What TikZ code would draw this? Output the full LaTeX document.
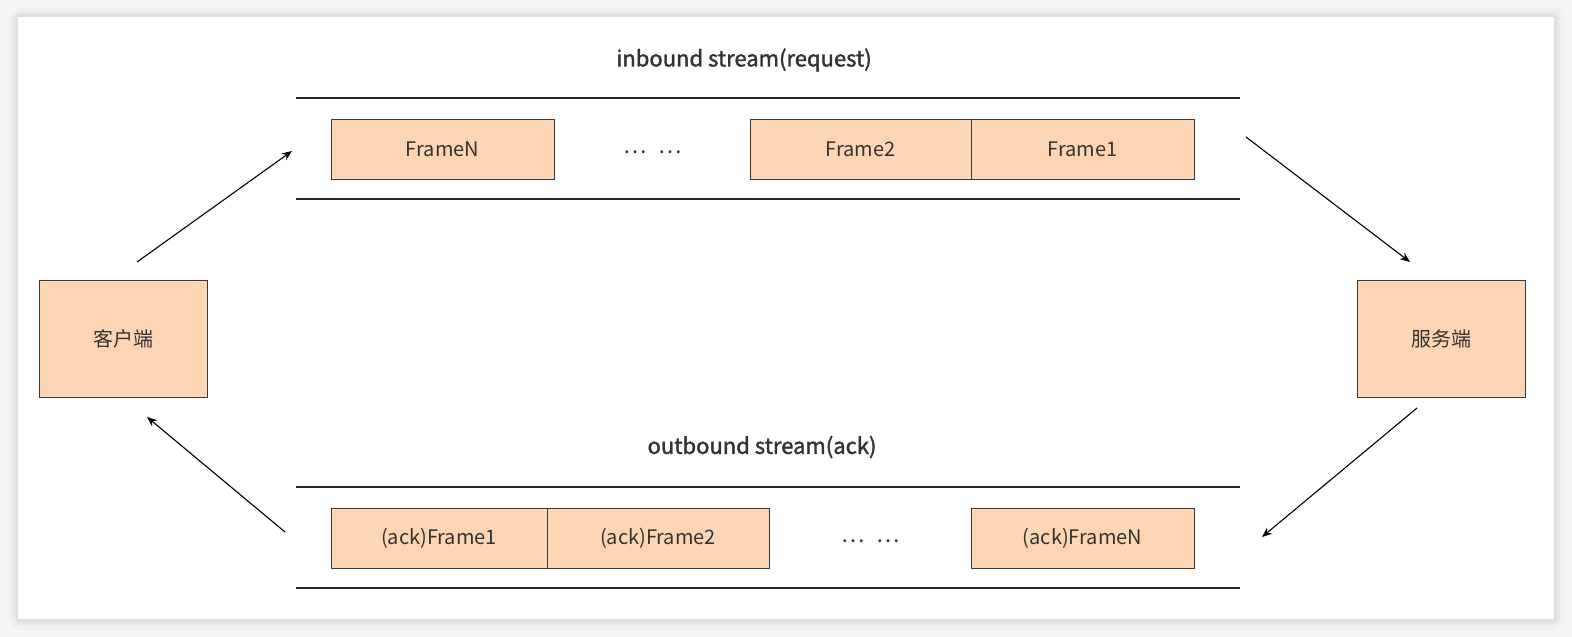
\documentclass[tikz,border=0pt]{standalone}
\usepackage{fontspec}
\setmainfont{Noto Sans CJK SC}
\newfontfamily\titlefont[FakeBold=1.6]{Noto Sans CJK SC}
\usetikzlibrary{arrows.meta}
\definecolor{boxfill}{HTML}{FCD5B5}
\definecolor{edge}{HTML}{3A3A3A}
\definecolor{txt}{HTML}{333333}
\tikzset{
  framebox/.style={draw=edge, line width=0.9pt, fill=boxfill, minimum width=#1, minimum height=60pt, inner sep=0pt, text=txt, font=\fontsize{20}{22}\selectfont},
  framebox/.default=222pt,
  endbox/.style={draw=edge, line width=0.9pt, fill=boxfill, minimum width=168pt, minimum height=117pt, inner sep=0pt, text=txt, font=\fontsize{20}{22}\selectfont},
  rail/.style={draw=black!85, line width=1.2pt},
  flow/.style={draw=black, line width=1.1pt, -{Stealth[length=10pt,width=8pt]}},
  title/.style={text=txt, font=\fontsize{22}{26}\titlefont},
  dots/.style={text=txt, font=\fontsize{22}{24}\selectfont}
}
\begin{document}
\begin{tikzpicture}[x=1pt,y=-1pt]
\useasboundingbox (0,0) rectangle (1572,637);
% background and panel shadow
\fill[black!4] (0,0) rectangle (1572,637);
\fill[black!6, rounded corners=14pt] (9,8) rectangle (1565,630);
\fill[black!9, rounded corners=8pt] (13,12) rectangle (1560,625);
\fill[black!12, rounded corners=3pt] (16,15) rectangle (1557,622);
\fill[white] (18,17) rectangle (1554,619);
% titles
\node[title] (tin) at (744,60) {inbound stream(request)};
\node[title] (tout) at (762,447) {outbound stream(ack)};
% rails
\coordinate (r1a) at (296,98); \coordinate (r1b) at (1240,98);
\coordinate (r2a) at (296,199); \coordinate (r2b) at (1240,199);
\coordinate (r3a) at (296,487); \coordinate (r3b) at (1240,487);
\coordinate (r4a) at (296,588); \coordinate (r4b) at (1240,588);
\draw[rail] (r1a) -- (r1b);
\draw[rail] (r2a) -- (r2b);
\draw[rail] (r3a) -- (r3b);
\draw[rail] (r4a) -- (r4b);
% inbound frames
\node[framebox=223pt] (fN) at (442.5,149) {FrameN};
\node[dots] (d1) at (653,152) {…\hspace{12pt}…};
\node[framebox=221pt] (f2) at (860.5,149) {Frame2};
\node[framebox=223pt] (f1) at (1082.5,149) {Frame1};
% outbound frames
\node[framebox=216pt] (a1) at (439,538) {(ack)Frame1};
\node[framebox=222pt] (a2) at (658,538) {(ack)Frame2};
\node[dots] (d2) at (871,541) {…\hspace{12pt}…};
\node[framebox=223pt] (aN) at (1082.5,538) {(ack)FrameN};
% end boxes
\node[endbox] (client) at (123,338.5) {客户端};
\node[endbox] (server) at (1441,338.5) {服务端};
% arrows
\coordinate (p1s) at (137,262); \coordinate (p1e) at (292,151);
\coordinate (p2s) at (1246,137); \coordinate (p2e) at (1410,262);
\coordinate (p3s) at (1417,408); \coordinate (p3e) at (1262,537);
\coordinate (p4s) at (285,532); \coordinate (p4e) at (147,417);
\draw[flow] (p1s) -- (p1e);
\draw[flow] (p2s) -- (p2e);
\draw[flow] (p3s) -- (p3e);
\draw[flow] (p4s) -- (p4e);
\end{tikzpicture}
\end{document}
